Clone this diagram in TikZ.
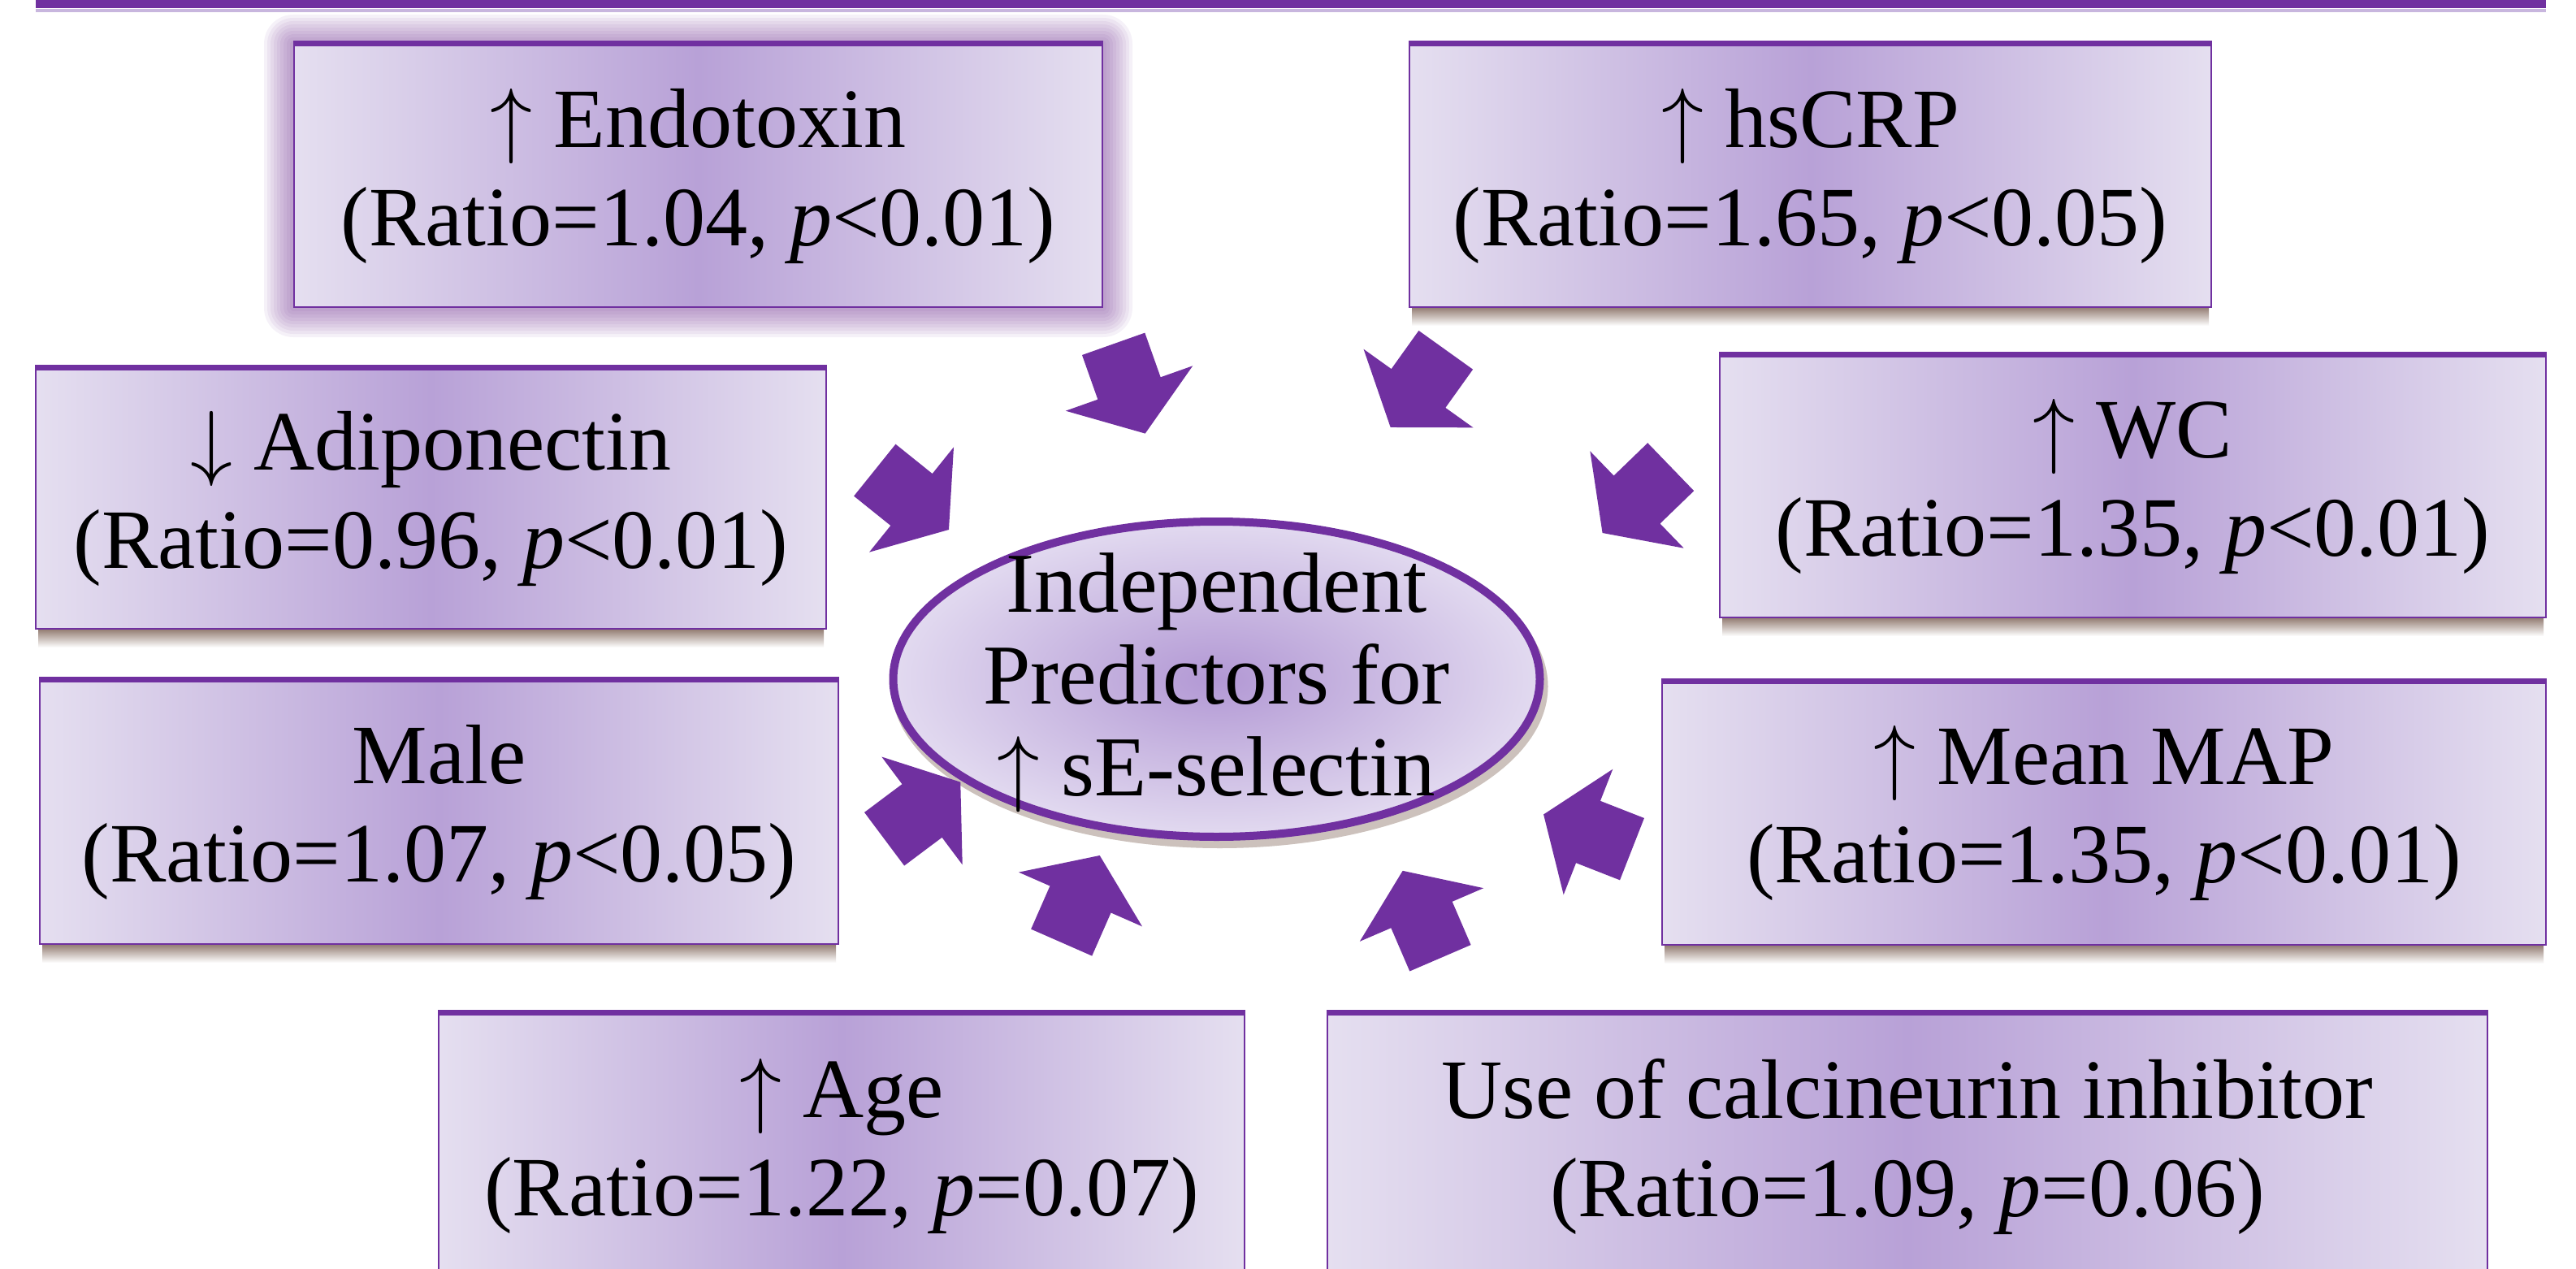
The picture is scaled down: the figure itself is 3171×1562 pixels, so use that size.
\RequirePackage{fix-cm}
\documentclass[tikz,border=0pt]{standalone}
\usepackage{fontspec}
\setmainfont{Liberation Serif}
\usetikzlibrary{shapes.geometric,backgrounds}
\definecolor{ppurple}{RGB}{112,48,160}
\definecolor{boxedge}{RGB}{229,223,240}
\definecolor{boxmid}{RGB}{184,161,215}
\definecolor{ellin}{RGB}{178,152,212}
\definecolor{ellout}{RGB}{226,218,240}
\definecolor{shadowc}{RGB}{150,128,118}
\definecolor{glowc}{RGB}{118,58,150}
\definecolor{barline}{RGB}{200,182,222}
\newcommand{\myup}{$\uparrow$}
\newcommand{\mydown}{$\downarrow$}
\tikzset{
  predbox/.style={draw=ppurple, line width=2pt, left color=boxedge, right color=boxedge,
    middle color=boxmid, inner sep=0pt, align=center, text=black,
    font=\fontsize{104}{121}\selectfont},
  topedge/.style={draw=ppurple, line width=7pt},
  coreshape/.style={ellipse, draw=ppurple, line width=10pt, inner color=ellin,
    outer color=ellout, inner sep=0pt, minimum width=796pt, minimum height=388pt},
  coretextstyle/.style={align=center, text=black, inner sep=0pt,
    font=\fontsize{105}{113}\selectfont},
  arrowfill/.style={fill=ppurple}
}
\newcommand{\blockarrow}[4]{%
  \begin{scope}[shift={(#2,#3)}, rotate=#4]
    \fill[arrowfill] (-58,-41) -- (0,-41) -- (0,-83) -- (59,0) -- (0,83) -- (0,41) -- (-58,41) -- cycle;
    \coordinate (#1) at (0,0);
  \end{scope}}
\begin{document}
\begin{tikzpicture}[x=1pt,y=-1pt]
\useasboundingbox (0,0) rectangle (3171,1562);
% top bar
\fill[ppurple] (44,0) rectangle (3134,10);
\fill[barline] (44,11) rectangle (3134,15);
% boxes
\node[predbox, minimum width=995pt, minimum height=323pt] (endo) at (859.5,216.5)
  {\myup{} Endotoxin\\(Ratio=1.04, \textit{p}<0.01)};
\node[predbox, minimum width=987pt, minimum height=323pt] (crp) at (2228.5,216.5)
  {\myup{} hsCRP\\(Ratio=1.65, \textit{p}<0.05)};
\node[predbox, minimum width=973pt, minimum height=321pt] (adipo) at (530.5,613.5)
  {\mydown{} Adiponectin\\(Ratio=0.96, \textit{p}<0.01)};
\node[predbox, minimum width=1017pt, minimum height=323pt] (wc) at (2625.5,598.5)
  {\myup{} WC\\(Ratio=1.35, \textit{p}<0.01)};
\node[predbox, minimum width=983pt, minimum height=325pt] (male) at (540.5,999.5)
  {Male\\(Ratio=1.07, \textit{p}<0.05)};
\node[predbox, minimum width=1088pt, minimum height=324pt] (map) at (2590,1001)
  {\myup{} Mean MAP\\(Ratio=1.35, \textit{p}<0.01)};
\node[predbox, minimum width=992pt, minimum height=328pt] (age) at (1036,1411)
  {\myup{} Age\\(Ratio=1.22, \textit{p}=0.07)};
\node[predbox, minimum width=1428pt, minimum height=328pt] (calc) at (2348,1411)
  {Use of calcineurin inhibitor\\(Ratio=1.09, \textit{p}=0.06)};
\foreach \b in {endo,crp,adipo,wc,male,map,age,calc}{
  \draw[topedge] (\b.north west) -- (\b.north east);
}
% central ellipse
\node[coreshape] (core) at (1497.5,836) {};
\node[coretextstyle] (coretxt) at ([yshift=-4pt]core.center) {Independent\\Predictors for\\\myup{} sE-selectin};
% shadows and glow
\begin{scope}[on background layer]
  \foreach \k [evaluate=\k as \r using \k*4] in {1,...,9}{
    \fill[glowc, opacity=0.07, rounded corners=\r pt]
      ([shift={(-\r pt,\r pt)}]endo.north west) rectangle ([shift={(\r pt,-\r pt)}]endo.south east);
  }
  \foreach \b in {crp,adipo,wc,male,map}{
    \shade[top color=shadowc, bottom color=white]
      ([xshift=4pt]\b.south west) rectangle ([xshift=-4pt,yshift=-22pt]\b.south east);
  }
  \foreach \s in {0.25,0.2,0.15}{
    \fill[shadowc, opacity=\s] ([xshift=4pt,yshift=-9pt]core.center) ellipse [x radius=404pt, y radius=199pt];
  }
\end{scope}
% block arrows
\blockarrow{a1}{1390}{478}{-70.5}
\blockarrow{a2}{1746}{478}{-125.6}
\blockarrow{a3}{1122}{615}{-38.8}
\blockarrow{a4}{2015}{615}{-136}
\blockarrow{a5}{1135}{998}{36.8}
\blockarrow{a6}{1330}{1107}{66.3}
\blockarrow{a7}{1750}{1126}{113.3}
\blockarrow{a8}{1955}{1024}{158.6}
\end{tikzpicture}
\end{document}
